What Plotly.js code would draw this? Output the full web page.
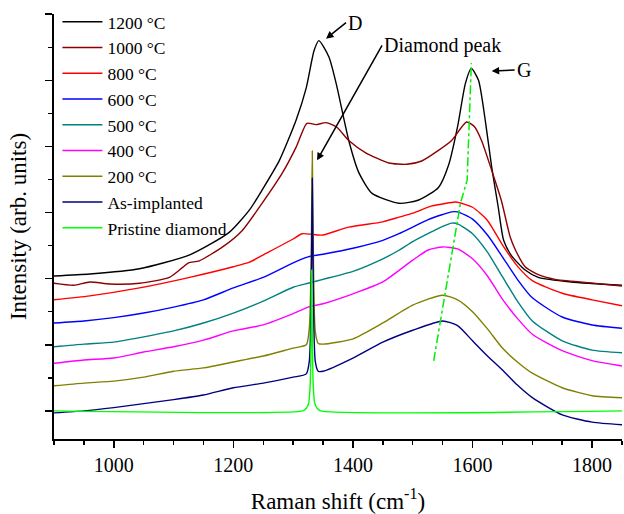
<!DOCTYPE html>
<html>
<head>
<meta charset="utf-8">
<script src="https://cdn.plot.ly/plotly-3.0.1.min.js"></script>
<style>html,body{margin:0;padding:0;background:#fff;}#chart{width:624px;height:514px;}</style>
</head>
<body>
<div id="chart"></div>
<script>
// Series names (legend order, top to bottom)
const seriesNames = ["1200 °C", "1000 °C", "800 °C", "600 °C", "500 °C", "400 °C", "200 °C", "As-implanted", "Pristine diamond"];
const seriesColors = ["#000000", "#8b0000", "#ff0000", "#0000ff", "#008080", "#ff00ff", "#808000", "#000080", "#00ff00"];

// Raman shift (cm^-1) and intensity (arb. units, offset)
const x1200 = [900, 960, 1043, 1127, 1193, 1227, 1248, 1277, 1305, 1322, 1335, 1343, 1360, 1372, 1393, 1410, 1432, 1477, 1510, 1543, 1560, 1575, 1588, 1598, 1610, 1622, 1632, 1643, 1652, 1665, 1688, 1710, 1765, 1850];
const y1200 = [2.04, 2.07, 2.15, 2.36, 2.70, 3.04, 3.34, 3.79, 4.40, 4.89, 5.45, 5.60, 5.35, 4.95, 4.09, 3.60, 3.29, 3.14, 3.19, 3.38, 3.72, 4.30, 4.95, 5.18, 5.00, 4.35, 3.69, 3.08, 2.58, 2.35, 2.13, 2.02, 1.95, 1.90];

const x1000 = [900, 933, 960, 993, 1043, 1093, 1115, 1125, 1143, 1182, 1215, 1248, 1282, 1305, 1323, 1338, 1355, 1373, 1393, 1422, 1460, 1490, 1515, 1543, 1565, 1590, 1603, 1615, 1632, 1648, 1663, 1672, 1688, 1710, 1738, 1793, 1850];
const y1000 = [1.93, 1.90, 1.95, 1.92, 1.93, 2.02, 2.17, 2.24, 2.27, 2.48, 2.73, 3.14, 3.60, 3.99, 4.35, 4.33, 4.36, 4.29, 4.09, 3.90, 3.75, 3.73, 3.78, 3.94, 4.09, 4.37, 4.30, 4.09, 3.64, 3.19, 2.63, 2.43, 2.18, 2.06, 1.99, 1.94, 1.89];

const x800 = [900, 960, 1043, 1127, 1200, 1227, 1250, 1300, 1315, 1340, 1350, 1393, 1450, 1477, 1500, 1532, 1550, 1572, 1600, 1625, 1650, 1675, 1700, 1750, 1800, 1850];
const y800 = [1.68, 1.74, 1.86, 2.02, 2.18, 2.25, 2.36, 2.60, 2.68, 2.66, 2.66, 2.78, 2.86, 2.93, 2.99, 3.10, 3.13, 3.16, 3.08, 2.88, 2.51, 2.19, 1.97, 1.78, 1.68, 1.59];

const x600 = [900, 950, 1000, 1050, 1100, 1150, 1200, 1250, 1300, 1325, 1350, 1400, 1450, 1477, 1500, 1525, 1550, 1565, 1575, 1600, 1625, 1650, 1675, 1700, 1750, 1800, 1850];
const y600 = [1.33, 1.36, 1.41, 1.48, 1.57, 1.68, 1.86, 2.02, 2.24, 2.33, 2.37, 2.46, 2.58, 2.68, 2.78, 2.89, 2.97, 3.01, 3.01, 2.90, 2.66, 2.33, 1.99, 1.71, 1.42, 1.30, 1.25];

const x500 = [900, 950, 1000, 1050, 1100, 1150, 1200, 1250, 1300, 1325, 1350, 1400, 1450, 1477, 1500, 1532, 1550, 1565, 1575, 1600, 1625, 1650, 1675, 1700, 1750, 1800, 1850];
const y500 = [0.97, 1.01, 1.04, 1.12, 1.21, 1.33, 1.48, 1.66, 1.87, 1.93, 1.99, 2.11, 2.30, 2.43, 2.56, 2.71, 2.79, 2.84, 2.83, 2.68, 2.40, 2.03, 1.66, 1.36, 1.06, 0.92, 0.88];

const x400 = [900, 950, 1000, 1050, 1100, 1150, 1200, 1250, 1300, 1325, 1350, 1400, 1450, 1500, 1525, 1550, 1575, 1600, 1625, 1650, 1675, 1700, 1750, 1800, 1850];
const y400 = [0.72, 0.77, 0.80, 0.89, 0.97, 1.07, 1.21, 1.30, 1.47, 1.57, 1.62, 1.77, 1.95, 2.28, 2.43, 2.48, 2.45, 2.30, 2.04, 1.69, 1.40, 1.16, 0.91, 0.76, 0.68];

const x200 = [900, 950, 1000, 1050, 1100, 1150, 1200, 1250, 1300, 1322, 1327, 1330, 1332, 1334, 1337, 1342, 1350, 1400, 1450, 1500, 1550, 1575, 1600, 1625, 1650, 1675, 1700, 1750, 1800, 1850];
const y200 = [0.38, 0.42, 0.45, 0.51, 0.60, 0.65, 0.74, 0.83, 0.95, 1.00, 1.25, 2.20, 3.93, 2.20, 1.20, 1.02, 1.01, 1.09, 1.33, 1.60, 1.75, 1.68, 1.50, 1.24, 0.95, 0.74, 0.57, 0.35, 0.23, 0.20];

const xAsImpl = [900, 950, 1000, 1050, 1100, 1150, 1200, 1250, 1300, 1322, 1327, 1330, 1332, 1334, 1337, 1342, 1350, 1400, 1450, 1500, 1550, 1575, 1600, 1625, 1650, 1675, 1700, 1750, 1800, 1850];
const yAsImpl = [-0.03, 0.00, 0.05, 0.11, 0.17, 0.24, 0.35, 0.42, 0.51, 0.56, 0.75, 1.60, 3.52, 1.60, 0.75, 0.60, 0.60, 0.80, 1.04, 1.22, 1.36, 1.29, 1.06, 0.83, 0.62, 0.39, 0.20, -0.06, -0.17, -0.21];

const xPristine = [900, 1316, 1322, 1326, 1328.5, 1330, 1331, 1332, 1333.5, 1336, 1340, 1346, 1850];
const yPristine = [0, 0, 0.04, 0.12, 0.40, 1.10, 2.13, 1.10, 0.40, 0.12, 0.04, 0, 0];

// G-band shift guide (dash-dot)
const xGuide = [1535, 1580, 1591, 1598];
const yGuide = [0.755, 3.15, 3.49, 5.26];

const xs = [x1200, x1000, x800, x600, x500, x400, x200, xAsImpl, xPristine];
const ys = [y1200, y1000, y800, y600, y500, y400, y200, yAsImpl, yPristine];

const FONT = "'Liberation Serif', 'Times New Roman', Times, serif";

const traces = seriesNames.map((name, i) => ({
  type: "scatter", mode: "lines", name: name,
  x: xs[i], y: ys[i],
  line: {color: seriesColors[i], width: 1.4, shape: "spline", smoothing: 0.6}
}));
traces.push({
  type: "scatter", mode: "lines", x: xGuide, y: yGuide, showlegend: false,
  line: {color: "#00ee00", width: 1.5, dash: "dashdot"}
});

const annFont = {family: FONT, size: 20, color: "#000"};
const layout = {
  width: 624, height: 514,
  margin: {l: 54, r: 2, t: 14, b: 75},
  paper_bgcolor: "#fff", plot_bgcolor: "#fff",
  font: {family: FONT, color: "#000"},
  showlegend: true,
  legend: {x: 0.006, y: 1.024, xanchor: "left", yanchor: "top", bgcolor: "rgba(0,0,0,0)",
           font: {family: FONT, size: 17.5, color: "#000"}, itemwidth: 40, tracegroupgap: 0},
  xaxis: {
    range: [900, 1850], tick0: 1000, dtick: 200,
    ticks: "outside", ticklen: 7, tickwidth: 1.5, tickcolor: "#000",
    minor: {dtick: 50, ticks: "outside", ticklen: 4, tickwidth: 1.5, tickcolor: "#000"},
    showline: true, linewidth: 2, linecolor: "#000", showgrid: false, zeroline: false,
    tickfont: {family: FONT, size: 20, color: "#000"},
    title: {text: "Raman shift (cm<sup>-1</sup>)", font: {family: FONT, size: 23, color: "#000"}, standoff: 18}
  },
  yaxis: {
    range: [-0.425, 6.003], tick0: 0, dtick: 1,
    ticks: "outside", ticklen: 7, tickwidth: 1.5, tickcolor: "#000",
    minor: {dtick: 0.5, ticks: "outside", ticklen: 4, tickwidth: 1.5, tickcolor: "#000"},
    showticklabels: false,
    showline: true, linewidth: 2, linecolor: "#000", showgrid: false, zeroline: false,
    title: {text: "Intensity (arb. units)", font: {family: FONT, size: 23, color: "#000"}, standoff: 12}
  },
  annotations: [
    {x: 1355, y: 5.63, text: "D", showarrow: true, ax: 20, ay: -16, xanchor: "left", yanchor: "middle",
     arrowhead: 2, arrowsize: 1, arrowwidth: 1.5, arrowcolor: "#000", font: annFont},
    {x: 1340, y: 3.79, text: "Diamond peak", showarrow: true, ax: 65, ay: -115, xanchor: "left", yanchor: "middle",
     arrowhead: 2, arrowsize: 1, arrowwidth: 1.5, arrowcolor: "#000", font: annFont},
    {x: 1632, y: 5.14, text: "G", showarrow: true, ax: 23, ay: -1, xanchor: "left", yanchor: "middle",
     arrowhead: 2, arrowsize: 1, arrowwidth: 1.5, arrowcolor: "#000", font: annFont}
  ]
};

Plotly.newPlot("chart", traces, layout, {displayModeBar: false, staticPlot: true});
</script>
</body>
</html>
